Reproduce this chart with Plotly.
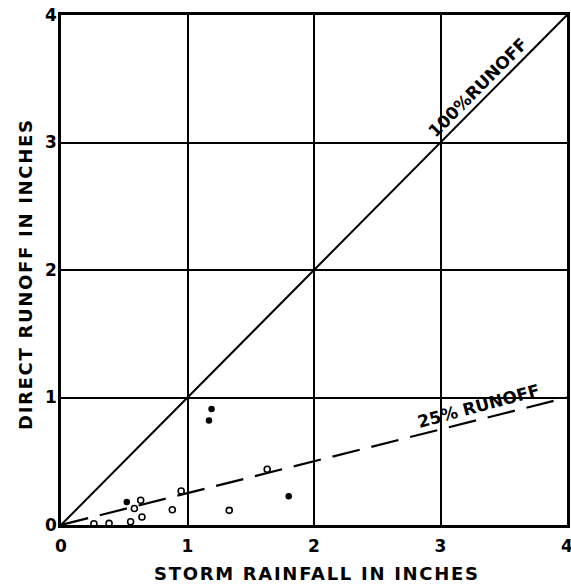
import plotly.graph_objects as go

# Data
open_x = [0.26, 0.38, 0.55, 0.58, 0.64, 0.63, 0.88, 0.95, 1.33, 1.63]
open_y = [0.01, 0.013, 0.026, 0.13, 0.063, 0.194, 0.12, 0.267, 0.115, 0.437]
filled_x = [0.52, 1.17, 1.19, 1.80]
filled_y = [0.18, 0.82, 0.91, 0.225]
line100_x = [0, 4]
line100_y = [0, 4]
line25_x = [0, 4]
line25_y = [0, 1]
tick_vals = [0, 1, 2, 3, 4]
tick_text = ["0", "1", "2", "3", "4"]

FONT = "DejaVu Sans"
W, H = 571, 586
ML, MR, MT, MB = 61, 4, 15, 61
PW, PH = W - ML - MR, H - MT - MB

fig = go.Figure()
fig.add_trace(go.Scatter(x=line100_x, y=line100_y, mode="lines",
                         line=dict(color="black", width=2), hoverinfo="skip"))
fig.add_trace(go.Scatter(x=line25_x, y=line25_y, mode="lines",
                         line=dict(color="black", width=2.2, dash="28px,12px"), hoverinfo="skip"))
fig.add_trace(go.Scatter(x=open_x, y=open_y, mode="markers",
                         marker=dict(symbol="circle-open", size=6, color="black",
                                     line=dict(width=1.6, color="black"))))
fig.add_trace(go.Scatter(x=filled_x, y=filled_y, mode="markers",
                         marker=dict(symbol="circle", size=6.5, color="black")))

fig.add_annotation(x=3.29, y=3.43, text="100%RUNOFF", showarrow=False,
                   textangle=-45, font=dict(family=FONT, size=17, color="black", weight="bold"))
fig.add_annotation(x=3.30, y=0.93, text="25% RUNOFF", showarrow=False,
                   textangle=-15, font=dict(family=FONT, size=17, color="black", weight="bold"))

# axis titles placed as paper annotations (pixel positions converted to paper units)
fig.add_annotation(x=(317 - ML) / PW, y=(H - MB - 573) / PH, xref="paper", yref="paper",
                   text='<span style="letter-spacing:1.7px">STORM RAINFALL IN INCHES</span>',
                   showarrow=False, xanchor="center", yanchor="middle",
                   font=dict(family=FONT, size=18, color="black", weight="bold"))
fig.add_annotation(x=(25 - ML) / PW, y=(H - MB - 274) / PH, xref="paper", yref="paper",
                   text='<span style="letter-spacing:1.7px">DIRECT RUNOFF IN INCHES</span>',
                   showarrow=False, textangle=-90, xanchor="center", yanchor="middle",
                   font=dict(family=FONT, size=18, color="black", weight="bold"))

axis_common = dict(range=[0, 4], tickvals=tick_vals, ticktext=tick_text,
                   showgrid=True, gridcolor="black", gridwidth=2,
                   zeroline=False, showline=True, linecolor="black", linewidth=2.5,
                   mirror=True, ticks="", automargin=False,
                   tickfont=dict(family=FONT, size=17, color="black", weight="bold"))

fig.update_layout(
    width=W, height=H,
    margin=dict(l=ML, r=MR, t=MT, b=MB, autoexpand=False),
    paper_bgcolor="white", plot_bgcolor="white",
    showlegend=False,
    xaxis=dict(**axis_common, ticklabelstandoff=4, ticklabeloverflow="allow"),
    yaxis=dict(**axis_common, ticklabelstandoff=-2),
)

fig.write_html("out.html", config={"displayModeBar": False},
               post_script="document.body.style.margin='0';document.body.style.overflow='hidden';")
